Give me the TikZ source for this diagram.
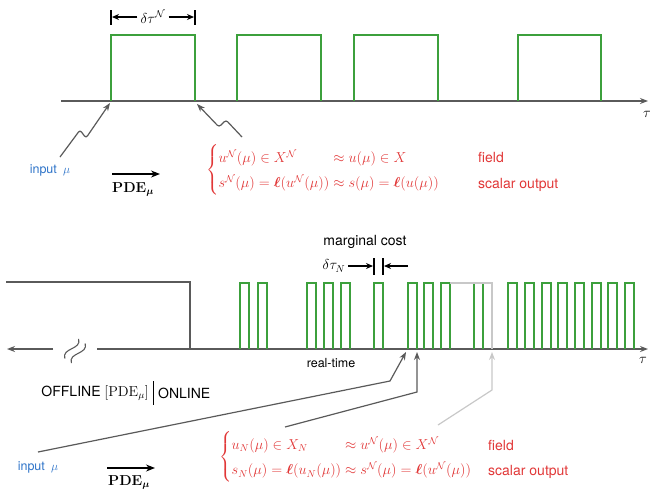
\documentclass[tikz,border=0pt]{standalone}
\usepackage{amsmath,amssymb,bm}
\usepackage[no-math]{fontspec}
\setmainfont{TeX Gyre Heros}
\usetikzlibrary{arrows.meta}

\definecolor{pulsegreen}{RGB}{60,160,60}
\definecolor{eqred}{RGB}{225,55,55}
\definecolor{inblue}{RGB}{45,115,200}
\definecolor{axisgray}{RGB}{90,90,90}
\definecolor{ghost}{RGB}{200,200,200}

\tikzset{
  axis/.style={draw=axisgray, line width=1.3pt},
  arrowaxis/.style={axis, -{Stealth[length=8pt,width=6pt]}},
  pulsebig/.style={draw=pulsegreen, line width=1.9pt},
  pulsesmall/.style={draw=pulsegreen, line width=1.6pt},
  lead/.style={draw=axisgray, line width=1.2pt, -{Stealth[length=8pt,width=6pt]}},
  ghostlead/.style={draw=ghost, line width=1.2pt, -{Stealth[length=8pt,width=6pt]}},
  pdearrow/.style={draw=black, line width=1.3pt, -{Stealth[length=9pt,width=7pt]}},
  dimline/.style={draw=black, line width=1.1pt},
  dimarrow/.style={draw=black, line width=1.1pt, -{Stealth[length=7pt,width=6pt]}},
  txt/.style={inner sep=0pt, font=\fontsize{14}{17}\selectfont},
  smalltxt/.style={inner sep=0pt, font=\fontsize{12.5}{15}\selectfont},
  bluetxt/.style={inner sep=0pt, text=inblue, font=\fontsize{12.5}{15}\selectfont},
  redtxt/.style={inner sep=0pt, text=eqred, font=\fontsize{14}{17}\selectfont},
}

\begin{document}
\begin{tikzpicture}[x=1pt,y=-1pt]
\useasboundingbox (0,0) rectangle (650,491);

% ---------------- upper panel: full PDE solves ----------------
\draw[arrowaxis] (61,101) -- (648,101);
\node[txt, anchor=north] (tauA) at (647,111) {$\tau$};

\foreach \a/\b in {111/195,237/321,354/438,518/601}
  \draw[pulsebig] (\a,101) -- (\a,35) -- (\b,35) -- (\b,101);

% width of one full solve
\draw[dimline] (111,10) -- (111,25);
\draw[dimline] (195,10) -- (195,25);
\node[txt] (dtA) at (153,17) {$\delta\tau^{\mathcal N}$};
\coordinate (dtAl) at (112,17);
\coordinate (dtAr) at (194,17);
\draw[dimarrow] ([xshift=-3pt]dtA.west) -- (dtAl);
\draw[dimarrow] ([xshift=3pt]dtA.east) -- (dtAr);

% input and output lightning arrows
\node[bluetxt] (inA) at (50,170) {input\enspace$\mu$};
\coordinate (startA) at (110,103);
\coordinate (endA) at (197,104);
\draw[lead, rounded corners=2.5pt] (60,157) -- (80,130) -- (86,138) -- (startA);
\draw[lead, rounded corners=2.5pt] (242,137) -- (226,120) -- (219,127) -- (endA);

\draw[pdearrow] (112,174) -- (160,174);
\node[txt, anchor=north west] (pdeA) at (112,182) {$\mathbf{PDE}_{\bm\mu}$};

\node[redtxt, anchor=west] (eqA) at (206,170) {$\def\arraystretch{1.5}\left\{\begin{array}{@{}l@{}l@{}}
u^{\mathcal N}(\mu)\in X^{\mathcal N}\qquad & {}\approx u(\mu)\in X\\
s^{\mathcal N}(\mu)=\bm\ell(u^{\mathcal N}(\mu)) & {}\approx s(\mu)=\bm\ell(u(\mu))
\end{array}\right.$};
\node[redtxt, anchor=base west] (fieldA) at (478,162) {field};
\node[redtxt, anchor=base west] (scalarA) at (478,188) {scalar output};

% ---------------- lower panel: offline / online ----------------
\draw[axis] (6,282) -- (190,282) -- (190,349);
\draw[arrowaxis] (53,349) -- (7,349);
\draw[arrowaxis] (97,349) -- (648,349);
\node[txt, anchor=north] (tauB) at (643,357) {$\tau$};

% axis break
\begin{scope}[shift={(75,351)}, rotate=55]
  \draw[axisgray, line width=1.1pt] (-12,-4) .. controls (-5,-13) and (5,5) .. (12,-4);
  \draw[axisgray, line width=1.1pt] (-12,4) .. controls (-5,-5) and (5,13) .. (12,4);
\end{scope}

% reduced-basis solves
\foreach \a in {240,258,307,324,341,374,408,424,441,474,508,525,542,558,575,592,608,625}
  \draw[pulsesmall] (\a,349) -- (\a,283) -- ++(9,0) -- ++(0,66);

% pending solve
\draw[ghost, line width=1.2pt] (450,283) -- (492,283) -- (492,349);

% marginal cost of one reduced solve
\node[txt] (mc) at (365,242) {marginal cost};
\draw[dimline] (374,258) -- (374,275);
\draw[dimline] (383,258) -- (383,275);
\node[txt] (dtB) at (334,266) {$\delta\tau_N$};
\coordinate (dtBl) at (373,266);
\coordinate (dtBr) at (384,266);
\draw[dimarrow] ([xshift=3pt]dtB.east) -- (dtBl);
\draw[dimarrow] (408,266) -- (dtBr);

\node[smalltxt] (rt) at (331,363) {real-time};

% offline / online split
\node[txt, anchor=east] (offl) at (149,393) {OFFLINE $[\mathrm{PDE}_\mu]$};
\node[txt, anchor=west] (onl) at (158,393) {ONLINE};
\draw[black, line width=0.9pt] (153,381) -- (153,405);

\node[bluetxt] (inB) at (38,467) {input\enspace$\mu$};
\coordinate (hitB1) at (406,352);
\coordinate (hitB2) at (417,352);
\coordinate (hitB3) at (492,352);
\draw[lead] (38,452) -- (390,381) -- (hitB1);
\draw[lead] (285,427) -- (417,392) -- (hitB2);
\draw[ghostlead] (438,425) -- (492,390) -- (hitB3);

\draw[pdearrow] (107,468) -- (155,468);
\node[txt, anchor=north west] (pdeB) at (108,475) {$\mathbf{PDE}_{\bm\mu}$};

\node[redtxt, anchor=west] (eqB) at (219,457) {$\def\arraystretch{1.5}\left\{\begin{array}{@{}l@{}l@{}}
u_N(\mu)\in X_N\quad & {}\approx u^{\mathcal N}(\mu)\in X^{\mathcal N}\\
s_N(\mu)=\bm\ell(u_N(\mu)) & {}\approx s^{\mathcal N}(\mu)=\bm\ell(u^{\mathcal N}(\mu))
\end{array}\right.$};
\node[redtxt, anchor=base west] (fieldB) at (488,450) {field};
\node[redtxt, anchor=base west] (scalarB) at (488,475) {scalar output};
\end{tikzpicture}
\end{document}
